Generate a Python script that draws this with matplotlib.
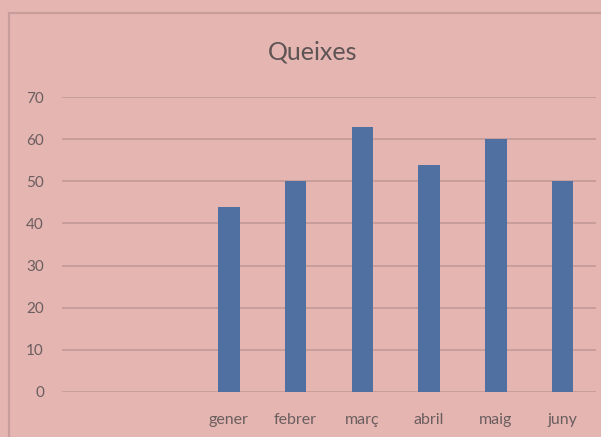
import matplotlib
matplotlib.use("Agg")
import matplotlib.pyplot as plt
from matplotlib.patches import Rectangle

# Monthly complaint counts; the first two category slots are left empty
months = ["", "", "gener", "febrer", "març", "abril", "maig", "juny"]
queixes = [0, 0, 44, 50, 63, 54, 60, 50]
yticks = [0, 10, 20, 30, 40, 50, 60, 70]

bg = "#e5b5b2"
grid_col = "#bf9896"
bar_col = "#4f70a0"
text_col = "#6a5e5e"

plt.rcParams["font.family"] = ["Lato", "DejaVu Sans"]

W, H = 601, 437
fig = plt.figure(figsize=(W / 100, H / 100), dpi=100)
fig.patch.set_facecolor(bg)

# outer chart frame (runs off the right and bottom edges)
fig.patches.append(Rectangle((9 / W, -0.1), 1.2, 1.1 - 13 / H,
                             transform=fig.transFigure, fill=False,
                             edgecolor="#c79e9c", linewidth=1.6))

ax = fig.add_axes([62 / W, 45.3 / H, 534 / W, 294.4 / H])
ax.set_facecolor(bg)

x = range(len(months))
ax.bar(x, queixes, width=0.32, color=bar_col, zorder=3)

ax.set_xlim(-0.5, len(months) - 0.5)
ax.set_ylim(0, 70)
ax.set_yticks(yticks)
ax.set_xticks(list(x))
ax.set_xticklabels(months)
ax.yaxis.grid(True, color=grid_col, linewidth=1.1, zorder=0)
ax.set_axisbelow(True)
for s in ax.spines.values():
    s.set_visible(False)
ax.tick_params(length=0, labelsize=11, labelcolor=text_col)
ax.tick_params(axis="y", pad=13)
ax.tick_params(axis="x", pad=15, labelsize=11.5)

fig.text(313 / W, 1 - 52 / H, "Queixes", ha="center", va="center",
         fontsize=18, color="#5e5454")

fig.savefig("out.png", dpi=100, facecolor=bg)
